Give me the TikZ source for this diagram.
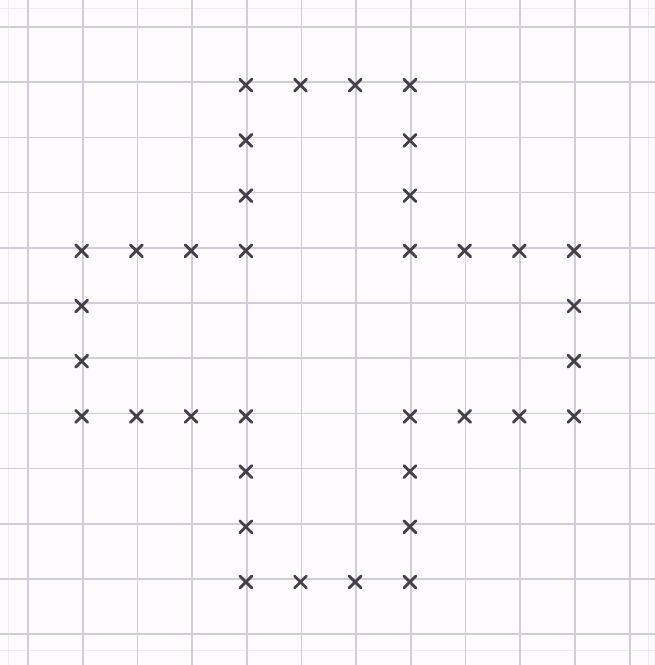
\documentclass[tikz,border=0pt]{standalone}
\begin{document}
\begin{tikzpicture}[x=1pt,y=-1pt,
  gridline/.style={draw=gridc, line width=1.7pt},
  markline/.style={draw=markc, line width=2.8pt, line cap=round},
  xmark/.pic={\draw[markline] (-6,-6) -- (6,6) (-6,6) -- (6,-6);}]
\definecolor{gridc}{RGB}{208,204,218}
\definecolor{markc}{RGB}{66,64,72}
\definecolor{paper}{RGB}{253,251,253}
\fill[paper] (0,0) rectangle (655,665);
\useasboundingbox (0,0) rectangle (655,665);
% faint edge lines
\draw[draw=gridc!40, line width=1pt] (0,8) -- (655,8) (0,650) -- (655,650) (8,0) -- (8,665) (648,0) -- (648,665);
% grid
\foreach \i in {0,...,11} {
  \draw[gridline] ({28+54.7*\i},0) -- ({28+54.7*\i},665);
  \draw[gridline] (0,{27+55.2*\i}) -- (655,{27+55.2*\i});
}
% marks (column,row)
\foreach \c/\r in {4/1,5/1,6/1,7/1,
                   4/2,7/2, 4/3,7/3,
                   1/4,2/4,3/4,4/4,7/4,8/4,9/4,10/4,
                   1/5,10/5, 1/6,10/6,
                   1/7,2/7,3/7,4/7,7/7,8/7,9/7,10/7,
                   4/8,7/8, 4/9,7/9,
                   4/10,5/10,6/10,7/10} {
  \pic at ({28+54.7*\c-1},{27+55.2*\r+3}) {xmark};
}
\end{tikzpicture}
\end{document}
